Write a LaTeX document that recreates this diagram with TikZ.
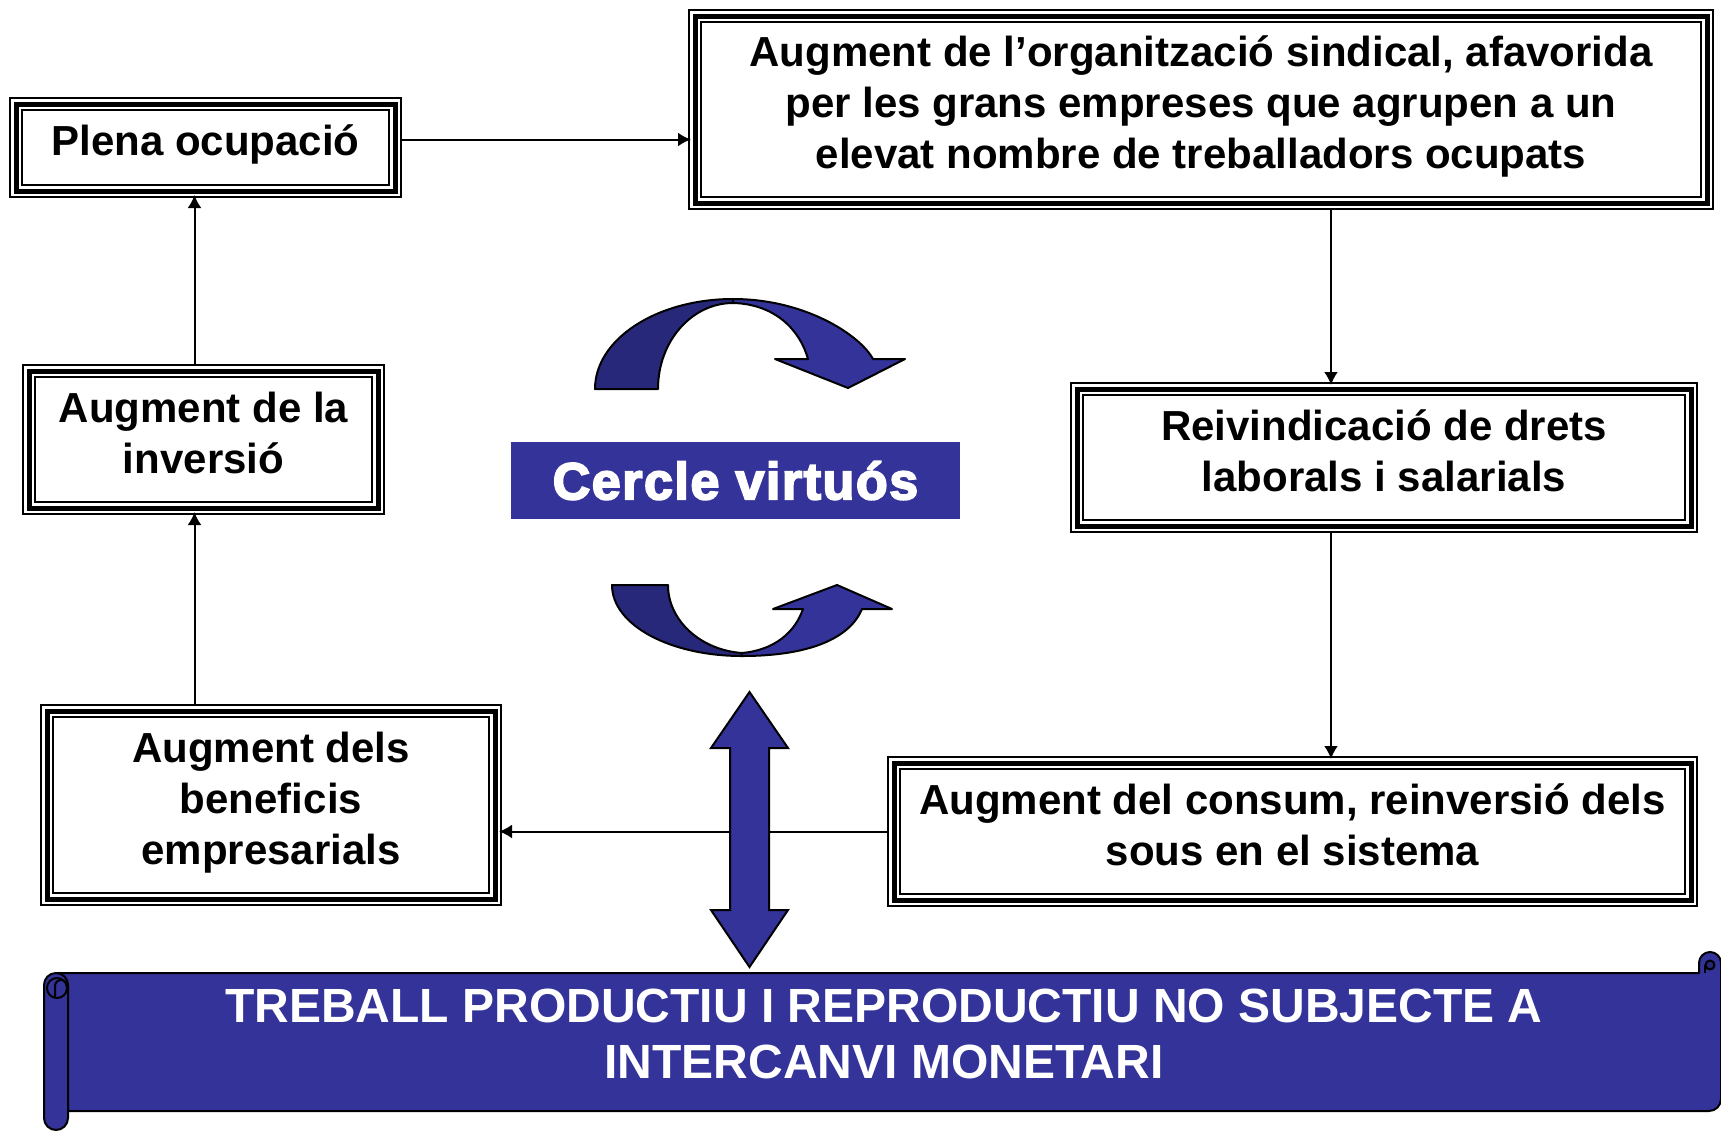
\documentclass[tikz,border=0pt]{standalone}
\usepackage{fontspec}
\usetikzlibrary{arrows.meta}
\setmainfont{Liberation Sans}
\newfontfamily\heavyfont[FakeBold=3.5,LetterSpace=3]{Liberation Sans}
\definecolor{scrollblue}{HTML}{333399}
\definecolor{scrolldark}{HTML}{28287A}
\tikzset{
  tribox/.style={draw=black,line width=7pt,fill=white,
    postaction={draw=white,line width=5pt},
    postaction={draw=black,line width=2.5pt},
    inner sep=0pt,align=center,text depth=7pt,font=\fontsize{21}{25.5}\selectfont\bfseries},
  conn/.style={-{Latex[length=6.5pt,width=7pt]},line width=1pt,shorten >=-1.5pt},
  bluepart/.style={fill=scrollblue,draw=black,line width=1pt,line join=round},
}
\begin{document}
\begin{tikzpicture}[x=0.5pt,y=-0.5pt]
  \useasboundingbox (0,0) rectangle (1721,1131);
  % boxes round the circle
  \node[tribox,minimum width=189.5pt,minimum height=43.5pt] (plena) at (205.5,147.5) {Plena ocupació};
  \node[tribox,minimum width=506pt,minimum height=93.5pt] (org) at (1201,109.5)
    {Augment de l’organització sindical, afavorida\\per les grans empreses que agrupen a un\\elevat nombre de treballadors ocupats};
  \node[tribox,minimum width=307pt,minimum height=68.5pt] (reiv) at (1384,457.5)
    {Reivindicació de drets\\laborals i salarials};
  \node[tribox,minimum width=398.5pt,minimum height=68.5pt] (consum) at (1292.5,831.5)
    {Augment del consum, reinversió dels\\sous en el sistema};
  \node[tribox,minimum width=224pt,minimum height=94pt] (benef) at (271,805)
    {Augment dels\\beneficis\\empresarials};
  \node[tribox,minimum width=174.5pt,minimum height=68.5pt] (inver) at (203.5,439.5)
    {Augment de la\\inversió};
  \node[fill=scrollblue,text=white,minimum width=224.5pt,minimum height=38.5pt,
    font=\fontsize{26}{30}\heavyfont\bfseries] (cercle) at (735.5,480.5) {Cercle virtuós};

  % connectors
  \draw[conn] ([yshift=4pt]plena.east) -- ([yshift=4pt]plena.east -| org.west);
  \draw[conn] ([xshift=-26.5pt]reiv.north |- org.south) -- ([xshift=-26.5pt]reiv.north);
  \draw[conn] ([xshift=-26.5pt]reiv.south) -- ([xshift=-26.5pt]reiv.south |- consum.north);
  \draw[conn] (consum.west) -- (consum.west -| benef.east);
  \draw[conn] ([xshift=-4.5pt]inver.south |- benef.north) -- ([xshift=-4.5pt]inver.south);
  \draw[conn] ([xshift=-4.5pt]inver.north) -- ([xshift=-4.5pt]inver.north |- plena.south);

  % curved arrows
  \draw[bluepart,fill=scrolldark] (595,389) .. controls (595,339) and (657,299) .. (733,299)
    -- (733,303) .. controls (692,303) and (658,341) .. (658,389) -- cycle;
  \draw[bluepart] (733,299) .. controls (805,299) and (860,335) .. (873,359) -- (905,359)
    -- (848,388) -- (775,359) -- (808,359) .. controls (800,330) and (775,304) .. (733,303) -- cycle;
  \draw[bluepart,fill=scrolldark] (612,585) .. controls (612,625) and (670,656) .. (742,656)
    -- (742,653) .. controls (700,650) and (668,620) .. (668,585) -- cycle;
  \draw[bluepart] (742,656) .. controls (810,656) and (850,638) .. (862,609) -- (892,609)
    -- (837,585) -- (773,609) -- (803,609) .. controls (795,632) and (775,650) .. (742,653) -- cycle;

  % double arrow
  \draw[bluepart,line join=miter] (749.5,692) -- (788,748) -- (769,748) -- (769,910) -- (788,910)
    -- (749.5,967) -- (711,910) -- (730,910) -- (730,748) -- (711,748) -- cycle;

  % scroll
  \draw[bluepart] (56,973) -- (1699,973) -- (1699,963) arc (180:360:11)
    -- (1721,1099) arc (0:90:12) -- (56,1111) -- cycle;
  \draw[bluepart,fill=scrolldark] (1710,965) circle (4.5);
  \draw[line width=1pt] (1705,965) -- (1705,973);
  \draw[bluepart,rounded corners=6pt] (44,973) rectangle (68,1130);
  \draw[line width=1pt] (57,988) circle (10);
  \draw[line width=1pt] (55,997) -- (55,986) arc (180:360:6) -- (67,990);
  \node[text=white,align=center,font=\fontsize{24}{28}\selectfont\bfseries] (banner) at (884,1034)
    {TREBALL PRODUCTIU I REPRODUCTIU NO SUBJECTE A\\INTERCANVI MONETARI};
\end{tikzpicture}
\end{document}
